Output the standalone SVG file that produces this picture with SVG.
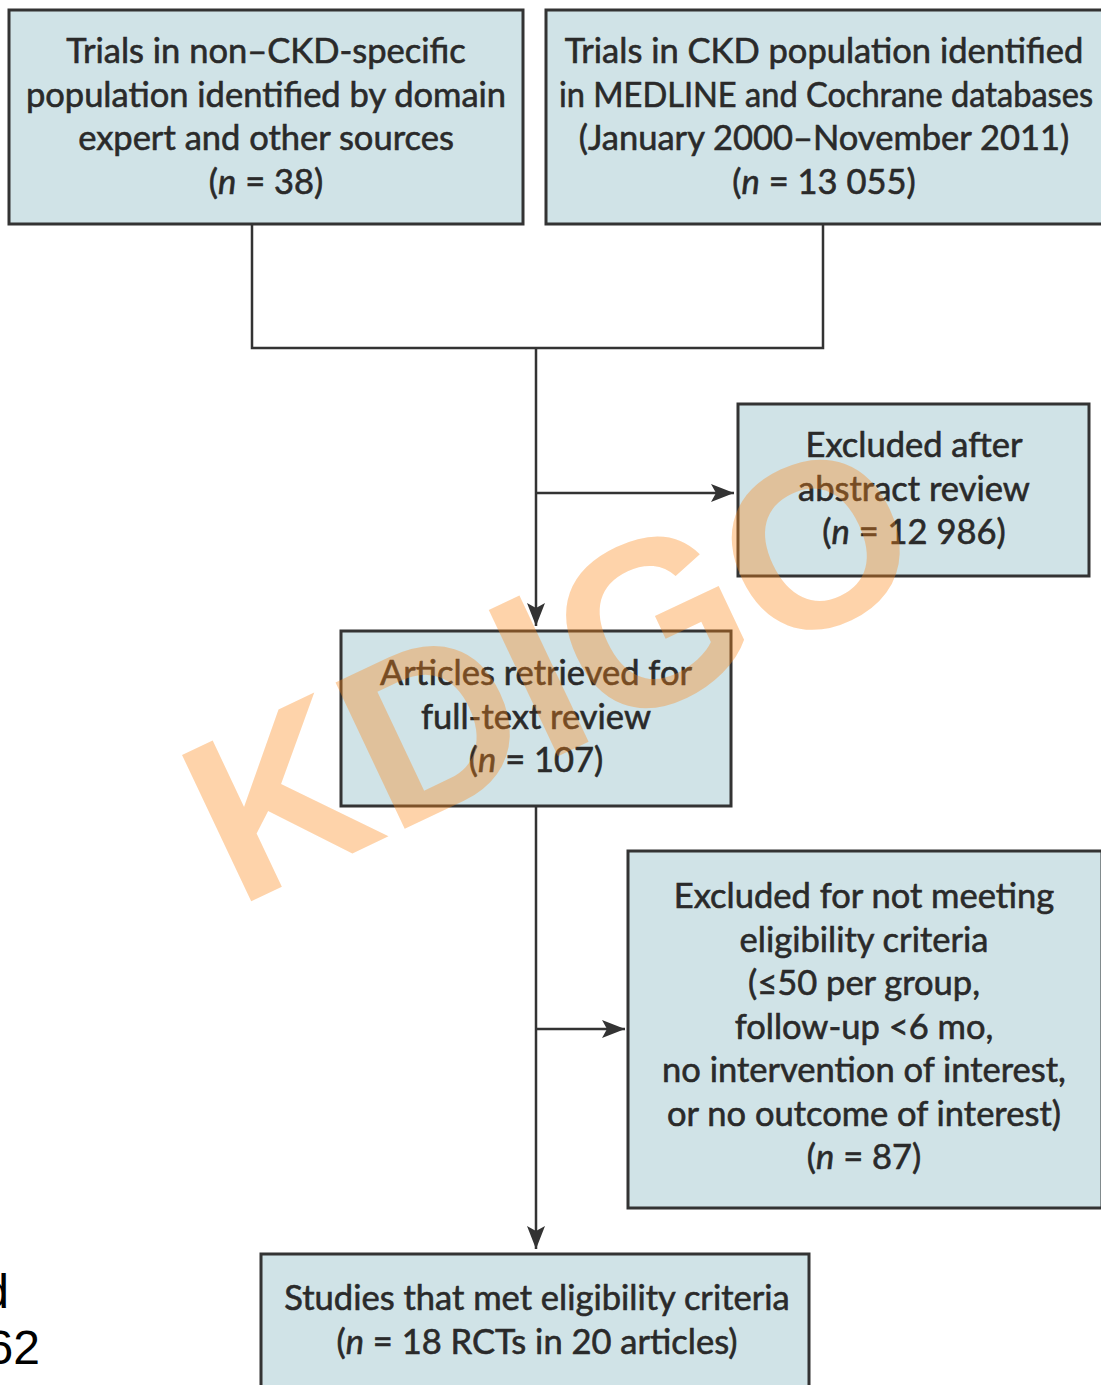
<svg xmlns="http://www.w3.org/2000/svg" width="1101" height="1385" viewBox="0 0 1101 1385">
<defs>
<style>
.box{fill:#d0e3e7;stroke:#333333;stroke-width:3}
.t{font-family:Lato,"Open Sans",sans-serif;font-size:34.5px;fill:#2a2a2a;stroke:#2a2a2a;stroke-width:0.6;text-anchor:middle}
.i{font-style:italic}
.ln{fill:none;stroke:#333333;stroke-width:2.5}
.wm{font-family:"Liberation Sans",Arial,sans-serif;font-weight:bold;font-size:235px;fill:#fc8819;fill-opacity:0.37}
.side{font-family:"Liberation Sans",Arial,sans-serif;font-size:48px;fill:#000;text-anchor:end}
</style>
<marker id="ah" markerUnits="userSpaceOnUse" markerWidth="24" markerHeight="20" refX="23" refY="9" orient="auto">
<path d="M0,0 L23,9 L0,18 L5,9 z" fill="#333333"/>
</marker>
</defs>
<rect width="1101" height="1385" fill="#ffffff"/>
<g id="connectors">
<polyline class="ln" points="252,224 252,348 823,348 823,224"/>
<line class="ln" x1="536" y1="348" x2="536" y2="626" marker-end="url(#ah)"/>
<line class="ln" x1="536" y1="493" x2="734" y2="493" marker-end="url(#ah)"/>
<line class="ln" x1="536" y1="806" x2="536" y2="1249" marker-end="url(#ah)"/>
<line class="ln" x1="536" y1="1029" x2="625" y2="1029" marker-end="url(#ah)"/>
</g>
<g id="n1">
<rect class="box" x="9" y="10" width="514" height="214"/>
<text class="t" x="266" y="63">Trials in non–CKD-specific</text>
<text class="t" x="266" y="106.5">population identified by domain</text>
<text class="t" x="266" y="150">expert and other sources</text>
<text class="t" x="266" y="193.5">(<tspan class="i">n</tspan> = 38)</text>
</g>
<g id="n2">
<rect class="box" x="546" y="10" width="558" height="214"/>
<text class="t" x="824" y="63">Trials in CKD population identified</text>
<text class="t" x="826" y="106.5" textLength="534" lengthAdjust="spacingAndGlyphs">in MEDLINE and Cochrane databases</text>
<text class="t" x="824" y="150">(January 2000–November 2011)</text>
<text class="t" x="824" y="193.5">(<tspan class="i">n</tspan> = 13 055)</text>
</g>
<g id="n3">
<rect class="box" x="738" y="404" width="351" height="172"/>
<text class="t" x="914" y="457">Excluded after</text>
<text class="t" x="914" y="500.5">abstract review</text>
<text class="t" x="914" y="544">(<tspan class="i">n</tspan> = 12 986)</text>
</g>
<g id="n4">
<rect class="box" x="341" y="631" width="390" height="175"/>
<text class="t" x="536" y="685">Articles retrieved for</text>
<text class="t" x="536" y="728.5">full-text review</text>
<text class="t" x="536" y="772">(<tspan class="i">n</tspan> = 107)</text>
</g>
<g id="n5">
<rect class="box" x="628" y="851" width="474" height="357"/>
<text class="t" x="864" y="908">Excluded for not meeting</text>
<text class="t" x="864" y="951.5">eligibility criteria</text>
<text class="t" x="864" y="995">(≤50 per group,</text>
<text class="t" x="864" y="1038.5">follow-up &lt;6 mo,</text>
<text class="t" x="864" y="1082">no intervention of interest,</text>
<text class="t" x="864" y="1125.5">or no outcome of interest)</text>
<text class="t" x="864" y="1169">(<tspan class="i">n</tspan> = 87)</text>
</g>
<g id="n6">
<rect class="box" x="261" y="1254" width="548" height="140"/>
<text class="t" x="537" y="1310">Studies that met eligibility criteria</text>
<text class="t" x="537" y="1353.5">(<tspan class="i">n</tspan> = 18 RCTs in 20 articles)</text>
</g>
<text class="side" x="9" y="1308">d</text>
<text class="side" x="40" y="1364">62</text>
<text class="wm" transform="translate(237,908) rotate(-25.3)">KDIGO</text>
</svg>
